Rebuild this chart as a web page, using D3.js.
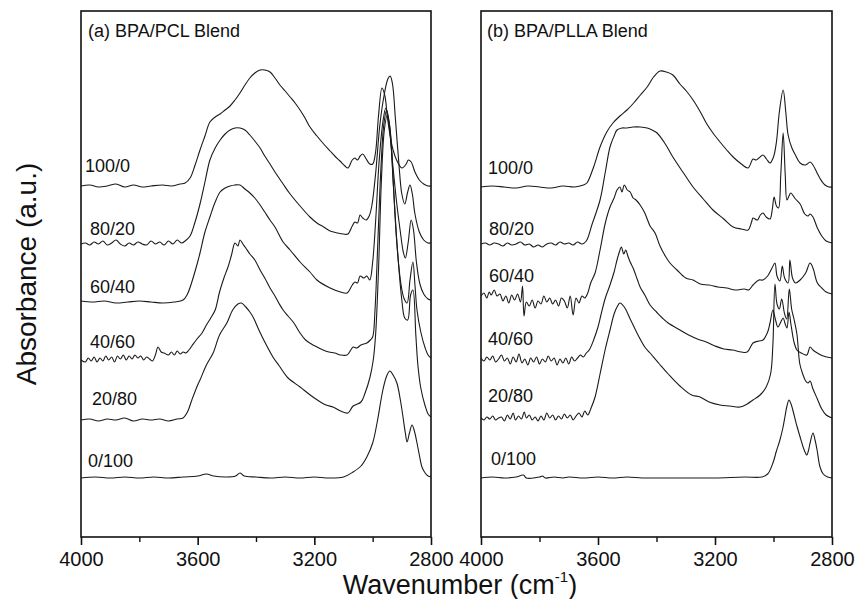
<!DOCTYPE html>
<html><head><meta charset="utf-8">
<script src="https://cdn.jsdelivr.net/npm/d3@7"></script>
<style>body{margin:0;background:#fff}svg{display:block}</style>
</head><body>
<svg id="c" width="857" height="599"></svg>
<script>
// ---------- data ----------
const xTicks = [4000, 3600, 3200, 2800];
const xMinorTicks = [3800, 3400, 3000];
const blendLabels = ["100/0", "80/20", "60/40", "40/60", "20/80", "0/100"];
const panelTitles = ["(a) BPA/PCL Blend", "(b) BPA/PLLA Blend"];
// vertical offsets (a.u.) of the stacked spectra
const pclOffsets = [351, 293, 235, 177, 117, 59];
const pllaOffsets = [350, 293, 239, 177, 118, 59];

// [wavenumber, absorbance above own baseline]
const pcl_100_0 = [[4000,0],[3970,1],[3940,-1],[3910,0],[3880,2],[3850,-1],[3820,1],[3790,-1],[3760,0],[3720,1],[3690,0],[3660,2],[3643,3],[3626,8],[3610,20],[3592,36],[3575,50],[3558,64],[3540,69],[3523,72],[3506,76],[3489,80],[3472,86],[3455,93],[3438,101],[3421,108],[3404,113],[3386,116],[3370,116],[3352,114],[3335,108],[3318,101],[3300,95],[3283,89],[3266,83],[3249,76],[3232,68],[3215,59],[3191,50],[3168,42],[3146,35],[3130,30],[3112,25],[3095,20],[3085,18],[3070,26],[3061,28],[3052,26],[3043,30],[3034,32],[3022,27],[3010,22],[3000,22],[2990,34],[2980,70],[2968,98],[2958,90],[2950,70],[2940,50],[2930,36],[2918,26],[2900,18],[2885,22],[2878,26],[2868,24],[2855,14],[2840,6],[2825,2],[2810,0],[2800,0]];
const pcl_80_20 = [[4000,0],[3985,1],[3970,-1],[3955,2],[3940,0],[3925,3],[3910,-1],[3895,1],[3880,4],[3865,0],[3850,-2],[3835,1],[3820,-1],[3805,2],[3790,0],[3775,-1],[3760,3],[3745,0],[3730,2],[3715,-1],[3700,3],[3685,0],[3670,4],[3655,1],[3643,3],[3626,8],[3610,21],[3592,40],[3575,62],[3558,84],[3540,96],[3523,104],[3506,110],[3489,114],[3472,116],[3455,116],[3438,114],[3421,109],[3404,103],[3386,96],[3370,88],[3352,80],[3335,72],[3307,60],[3283,50],[3249,38],[3215,27],[3191,21],[3168,17],[3146,13],[3120,11],[3100,10],[3085,10],[3070,18],[3061,22],[3052,21],[3043,29],[3034,26],[3022,24],[3012,28],[3003,38],[2990,70],[2975,120],[2960,150],[2948,165],[2940,168],[2932,160],[2922,125],[2910,80],[2900,50],[2890,40],[2880,52],[2872,59],[2864,50],[2855,30],[2840,12],[2825,4],[2810,1],[2800,1]];
const pcl_60_40 = [[4000,1],[3960,0],[3920,1],[3880,-1],[3840,0],[3800,1],[3760,0],[3720,-1],[3680,0],[3650,2],[3635,8],[3620,20],[3600,40],[3592,49],[3575,70],[3558,85],[3540,100],[3523,110],[3506,114],[3489,116],[3472,117],[3455,117],[3438,113],[3421,109],[3404,104],[3386,97],[3370,90],[3352,82],[3335,75],[3307,60],[3283,52],[3249,40],[3215,30],[3191,22],[3146,14],[3110,10],[3088,9],[3070,17],[3061,20],[3052,19],[3043,26],[3030,24],[3020,26],[3010,22],[3000,40],[2990,80],[2978,140],[2965,180],[2955,194],[2945,180],[2932,140],[2918,100],[2905,70],[2895,50],[2888,44],[2878,60],[2868,82],[2860,72],[2850,40],[2838,18],[2825,8],[2810,3],[2800,2]];
const pcl_40_60 = [[4000,0],[3985,-2],[3975,2],[3965,-1],[3955,3],[3945,-2],[3935,2],[3925,-1],[3915,4],[3905,0],[3895,3],[3885,-2],[3875,4],[3865,1],[3855,5],[3845,0],[3835,4],[3825,1],[3815,5],[3805,2],[3795,4],[3785,0],[3775,3],[3765,1],[3755,-1],[3745,5],[3736,13],[3725,8],[3715,7],[3700,5],[3690,8],[3680,5],[3670,9],[3660,6],[3650,8],[3640,7],[3630,10],[3620,14],[3605,20],[3585,27],[3570,35],[3555,42],[3540,50],[3525,68],[3510,82],[3496,93],[3484,105],[3472,117],[3462,114],[3455,120],[3445,116],[3435,112],[3421,106],[3404,100],[3386,90],[3370,82],[3352,72],[3335,64],[3320,56],[3307,50],[3290,44],[3270,37],[3249,27],[3230,20],[3210,16],[3191,13],[3170,10],[3150,8],[3130,7],[3110,5],[3088,5],[3075,10],[3067,13],[3055,12],[3040,15],[3020,17],[3008,20],[3000,23],[2992,50],[2982,120],[2972,190],[2962,235],[2952,250],[2942,235],[2930,180],[2918,120],[2905,80],[2893,62],[2882,57],[2872,80],[2862,98],[2855,75],[2848,50],[2835,28],[2820,12],[2810,5],[2800,2]];
const pcl_20_80 = [[4000,0],[3970,1],[3940,-1],[3910,1],[3880,0],[3850,2],[3820,-1],[3790,1],[3760,0],[3730,1],[3700,-1],[3670,1],[3650,2],[3635,8],[3620,20],[3600,35],[3592,40],[3570,55],[3547,67],[3525,85],[3500,97],[3480,110],[3462,116],[3450,117],[3435,113],[3421,108],[3410,103],[3390,90],[3370,78],[3342,63],[3320,54],[3290,42],[3249,33],[3200,22],[3160,15],[3136,13],[3110,9],[3085,7],[3067,14],[3040,18],[3026,27],[3009,43],[2998,60],[2990,85],[2980,150],[2970,240],[2960,290],[2950,305],[2940,290],[2928,230],[2915,170],[2900,120],[2890,102],[2880,100],[2870,125],[2862,130],[2852,85],[2845,55],[2835,32],[2820,14],[2810,6],[2800,3]];
const pcl_0_100 = [[4000,0],[3950,1],[3900,0],[3850,1],[3800,0],[3750,1],[3700,0],[3650,1],[3600,2],[3570,4],[3545,2],[3500,1],[3470,2],[3455,5],[3440,2],[3400,1],[3350,0],[3300,1],[3250,0],[3200,1],[3150,0],[3100,1],[3067,6],[3040,12],[3020,21],[3000,35],[2985,55],[2965,88],[2952,102],[2941,107],[2930,103],[2917,95],[2905,78],[2896,61],[2888,45],[2882,36],[2874,45],[2865,53],[2857,47],[2848,35],[2840,23],[2831,11],[2820,5],[2810,2],[2800,1]];

const plla_100_0 = [[4000,0],[3960,1],[3920,0],[3880,-1],[3840,1],[3800,0],[3760,-1],[3720,1],[3680,0],[3650,2],[3638,4],[3615,20],[3593,40],[3570,55],[3549,64],[3525,71],[3501,77],[3478,84],[3455,92],[3432,100],[3410,110],[3388,116],[3366,115],[3344,112],[3320,103],[3298,96],[3275,87],[3250,75],[3230,64],[3207,54],[3180,44],[3160,37],[3138,30],[3110,23],[3087,19],[3070,28],[3060,27],[3050,29],[3036,32],[3024,28],[3012,24],[3000,30],[2990,45],[2980,75],[2967,97],[2958,75],[2950,52],[2937,39],[2925,32],[2909,24],[2890,22],[2875,25],[2865,22],[2851,14],[2840,8],[2824,2],[2810,0],[2800,0]];
const plla_80_20 = [[4000,0],[3985,1],[3970,-1],[3955,1],[3940,0],[3925,-2],[3910,1],[3895,-1],[3880,0],[3865,2],[3850,-1],[3835,0],[3820,-3],[3805,-1],[3790,-3],[3775,0],[3760,1],[3745,-1],[3730,2],[3715,0],[3700,1],[3685,-1],[3670,2],[3655,0],[3640,3],[3620,20],[3593,44],[3575,72],[3559,97],[3545,108],[3535,114],[3518,116],[3501,116],[3480,117],[3455,117],[3432,116],[3415,114],[3398,111],[3370,100],[3344,87],[3310,72],[3275,57],[3240,45],[3207,34],[3170,25],[3138,17],[3110,15],[3087,14],[3075,22],[3070,26],[3055,24],[3045,29],[3036,31],[3025,27],[3012,25],[3004,35],[2998,47],[2990,38],[2983,36],[2975,70],[2967,111],[2960,70],[2954,44],[2947,48],[2941,51],[2925,45],[2909,40],[2893,30],[2882,28],[2875,30],[2865,27],[2850,16],[2835,8],[2820,3],[2800,1]];
const plla_60_40 = [[4000,2],[3990,5],[3980,0],[3972,6],[3965,3],[3955,8],[3945,2],[3935,4],[3925,-3],[3915,2],[3905,-5],[3895,3],[3885,-2],[3875,4],[3865,-4],[3858,12],[3853,-18],[3845,-4],[3835,-8],[3825,-2],[3815,-10],[3805,-3],[3795,-6],[3785,2],[3775,-4],[3765,0],[3755,-6],[3745,-2],[3735,-8],[3725,0],[3715,-3],[3705,-10],[3695,2],[3685,-17],[3675,0],[3665,-5],[3655,2],[3645,0],[3635,5],[3625,15],[3610,25],[3593,48],[3575,75],[3559,91],[3545,100],[3535,108],[3525,111],[3518,106],[3510,113],[3500,108],[3490,106],[3480,100],[3470,98],[3456,93],[3440,85],[3422,72],[3405,65],[3388,52],[3370,42],[3354,35],[3330,28],[3300,20],[3275,18],[3250,14],[3220,13],[3190,11],[3160,10],[3130,8],[3100,9],[3085,8],[3070,13],[3050,18],[3036,18],[3020,22],[3005,30],[2995,35],[2988,22],[2978,17],[2970,32],[2962,20],[2950,15],[2944,38],[2935,20],[2925,15],[2909,18],[2890,25],[2875,35],[2865,30],[2850,15],[2835,10],[2820,6],[2800,4]];
const plla_40_60 = [[4000,2],[3990,-1],[3980,3],[3970,0],[3960,4],[3950,-2],[3940,1],[3930,5],[3920,-1],[3910,2],[3900,-4],[3890,3],[3880,-2],[3870,6],[3860,-3],[3850,1],[3840,-5],[3830,2],[3820,-2],[3810,3],[3800,-4],[3790,1],[3780,-2],[3770,4],[3760,-1],[3750,2],[3740,-5],[3730,1],[3720,-3],[3710,2],[3700,-4],[3690,3],[3680,-1],[3670,2],[3660,5],[3650,3],[3640,7],[3630,10],[3615,20],[3600,33],[3590,45],[3575,62],[3559,75],[3545,88],[3535,100],[3527,108],[3520,113],[3512,106],[3505,110],[3498,104],[3490,98],[3480,92],[3465,80],[3456,73],[3440,65],[3422,55],[3400,48],[3380,42],[3360,37],[3320,30],[3290,25],[3260,21],[3230,18],[3200,14],[3170,11],[3140,10],[3110,8],[3090,8],[3070,17],[3050,19],[3036,20],[3020,28],[3012,37],[3002,50],[2993,40],[2985,33],[2975,38],[2967,42],[2960,36],[2954,32],[2947,48],[2940,35],[2930,18],[2920,10],[2905,7],[2886,5],[2875,13],[2865,10],[2850,7],[2830,4],[2800,2]];
const plla_20_80 = [[4000,1],[3990,-1],[3980,2],[3970,0],[3960,3],[3950,-1],[3940,1],[3930,2],[3920,-2],[3910,4],[3900,0],[3890,6],[3882,-1],[3872,3],[3862,0],[3852,7],[3845,1],[3835,4],[3825,-1],[3815,2],[3805,-2],[3795,3],[3785,-1],[3775,6],[3765,1],[3755,4],[3745,-1],[3735,3],[3725,0],[3715,5],[3705,1],[3695,4],[3685,-1],[3675,3],[3665,6],[3655,2],[3645,8],[3635,4],[3625,10],[3610,22],[3593,45],[3575,70],[3559,89],[3545,105],[3535,112],[3525,116],[3510,112],[3490,100],[3465,85],[3440,72],[3422,66],[3390,55],[3360,45],[3320,33],[3280,24],[3251,22],[3220,17],[3183,14],[3150,13],[3114,12],[3090,15],[3070,19],[3046,24],[3025,32],[3010,45],[3002,75],[2995,135],[2988,115],[2980,110],[2972,120],[2962,105],[2955,100],[2946,130],[2938,110],[2930,100],[2920,85],[2910,55],[2900,45],[2890,38],[2882,36],[2875,38],[2865,30],[2850,20],[2835,10],[2820,4],[2800,1]];
const plla_0_100 = [[4000,0],[3960,1],[3920,0],[3880,1],[3855,3],[3845,0],[3800,1],[3790,2],[3780,0],[3750,1],[3720,0],[3700,1],[3650,0],[3600,1],[3550,0],[3500,1],[3450,0],[3400,0],[3300,0],[3200,0],[3100,1],[3040,1],[3020,4],[3002,15],[2990,27],[2978,38],[2968,50],[2961,61],[2954,72],[2947,78],[2940,74],[2934,68],[2920,52],[2909,41],[2895,28],[2886,23],[2880,28],[2875,35],[2865,45],[2858,38],[2851,28],[2841,11],[2830,4],[2815,1],[2800,0]];

const pclSeries = [pcl_100_0, pcl_80_20, pcl_60_40, pcl_40_60, pcl_20_80, pcl_0_100];
const pllaSeries = [plla_100_0, plla_80_20, plla_60_40, plla_40_60, plla_20_80, plla_0_100];

// ---------- layout ----------
const svg = d3.select("#c");
const FONT = "'Liberation Sans', Arial, Helvetica, sans-serif";
const plotTop = 11, plotBottom = 537;
const y = d3.scaleLinear().domain([0, 526]).range([plotBottom, plotTop]);

const panels = [
  {x0: 81, x1: 431, series: pclSeries, offsets: pclOffsets, title: panelTitles[0],
   labelX: [85, 90, 90, 90, 92, 88], labelY: [172, 235, 293, 348, 405, 467], titleX: 88},
  {x0: 481, x1: 832, series: pllaSeries, offsets: pllaOffsets, title: panelTitles[1],
   labelX: [488, 489, 489, 488, 488, 491], labelY: [174, 235, 282, 345, 402, 465], titleX: 487}
];

panels.forEach((p, pi) => {
  const x = d3.scaleLinear().domain([4000, 2800]).range([p.x0, p.x1]);
  const g = svg.append("g");
  const clipId = "clip" + pi;
  svg.append("clipPath").attr("id", clipId).append("rect")
    .attr("x", p.x0).attr("y", plotTop).attr("width", p.x1 - p.x0).attr("height", plotBottom - plotTop);

  const line = d3.line()
    .x(d => x(d[0]))
    .y(d => y(d[1]))
    .curve(d3.curveCatmullRom.alpha(0.5));

  const cg = g.append("g").attr("clip-path", `url(#${clipId})`);
  p.series.forEach((s, i) => {
    const pts = s.map(d => [d[0], d[1] + p.offsets[i]]);
    cg.append("path").attr("d", line(pts))
      .attr("fill", "none").attr("stroke", "#1a1a1a").attr("stroke-width", 1.1)
      .attr("stroke-linejoin", "round");
  });

  // frame
  g.append("rect").attr("x", p.x0).attr("y", plotTop).attr("width", p.x1 - p.x0).attr("height", plotBottom - plotTop)
    .attr("fill", "none").attr("stroke", "#111").attr("stroke-width", 1.6);

  // axis
  const ax = g.append("g").attr("transform", `translate(0,${plotBottom})`)
    .call(d3.axisBottom(x).tickValues(xTicks).tickSize(8).tickFormat(d3.format("d")));
  ax.select(".domain").remove();
  ax.selectAll(".tick line").attr("stroke", "#111").attr("stroke-width", 1.6);
  ax.selectAll(".tick text").attr("font-family", FONT).attr("font-size", 20).attr("fill", "#111").attr("dy", "0.9em");
  const axm = g.append("g").attr("transform", `translate(0,${plotBottom})`)
    .call(d3.axisBottom(x).tickValues(xMinorTicks).tickSize(5).tickFormat(""));
  axm.select(".domain").remove();
  axm.selectAll(".tick line").attr("stroke", "#111").attr("stroke-width", 1.4);

  // title
  g.append("text").attr("x", p.titleX).attr("y", 37).text(p.title)
    .attr("font-family", FONT).attr("font-size", 18).attr("fill", "#111");
  // blend labels
  blendLabels.forEach((lab, i) => {
    g.append("text").attr("x", p.labelX[i]).attr("y", p.labelY[i]).text(lab)
      .attr("font-family", FONT).attr("font-size", 18).attr("fill", "#111");
  });
});

// axis titles
const xt = svg.append("text").attr("x", 460).attr("y", 594).attr("text-anchor", "middle")
  .attr("font-family", FONT).attr("font-size", 27).attr("fill", "#111");
xt.append("tspan").text("Wavenumber (cm");
xt.append("tspan").text("-1").attr("font-size", 15).attr("dy", -12);
xt.append("tspan").text(")").attr("dy", 12);

svg.append("text").attr("transform", "translate(36,274) rotate(-90)").attr("text-anchor", "middle")
  .attr("font-family", FONT).attr("font-size", 28).attr("fill", "#111").text("Absorbance (a.u.)");
</script>
</body></html>
